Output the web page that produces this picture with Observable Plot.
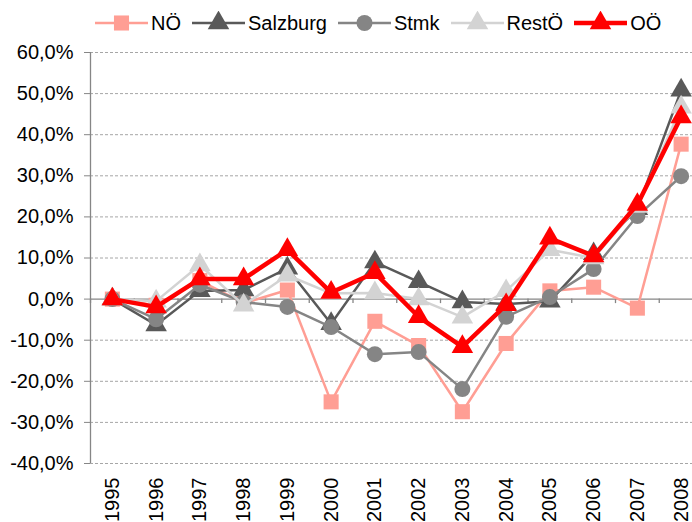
<!DOCTYPE html>
<html><head><meta charset="utf-8">
<script src="https://cdn.jsdelivr.net/npm/d3@7"></script>
<script src="https://cdn.jsdelivr.net/npm/@observablehq/plot@0.6"></script>
<style>
body{margin:0;background:#fff;font-family:"Liberation Sans",Arial,sans-serif;}
#wrap{position:relative;width:692px;height:522px;overflow:hidden;}
#legend{position:absolute;left:95px;top:11px;display:flex;align-items:center;font-size:20px;color:#000;white-space:nowrap;}
.item{display:flex;align-items:center;margin-right:11px;}
.item svg{margin-right:3px;}
</style></head>
<body><div id="wrap"><div id="legend"></div></div>
<script>
const years = [1995,1996,1997,1998,1999,2000,2001,2002,2003,2004,2005,2006,2007,2008];
const seriesNames = ["NÖ","Salzburg","Stmk","RestÖ","OÖ"];
const noe      = [0,-1.5,4.5,-1.0,2.2,-25.0,-5.4,-11.3,-27.4,-10.8,2.0,2.9,-2.2,37.7];
const salzburg = [0,-6.3,2.0,2.2,7.5,-6.0,9.0,4.2,-0.7,-1.2,-0.5,11.0,22.0,50.8];
const stmk     = [0,-4.9,3.5,-0.7,-1.9,-6.8,-13.4,-12.9,-21.9,-4.3,0.5,7.3,20.2,29.9];
const restoe   = [0,-0.5,8.3,-1.5,5.8,1.4,1.5,0.0,-4.4,2.0,12.0,10.0,22.5,46.7];
const ooe      = [0,-1.9,4.9,4.9,12.0,1.6,6.4,-4.3,-11.6,-1.4,14.8,10.5,23.0,44.3];
const yTicks = [-40,-30,-20,-10,0,10,20,30,40,50,60];

const styles = {
  "NÖ":       {color:"#FF9E94", symbol:"square",   r:8.5, sw:2.5},
  "Salzburg": {color:"#595959", symbol:"triangle", r:8,   sw:2.5},
  "Stmk":     {color:"#858585", symbol:"circle",   r:8,   sw:2.5},
  "RestÖ":    {color:"#D3D3D3", symbol:"triangle", r:8,   sw:2.5},
  "OÖ":       {color:"#FF0000", symbol:"triangle", r:8,   sw:4.5}
};
const values = {"NÖ":noe,"Salzburg":salzburg,"Stmk":stmk,"RestÖ":restoe,"OÖ":ooe};

const boundaries = years.map(y => y + 0.5).concat([years[0]-0.5]);

const marks = [
  Plot.ruleY(yTicks.filter(d => d !== 0), {stroke:"#A6A6A6", strokeDasharray:"3,2", strokeWidth:1}),
  Plot.ruleY([0], {stroke:"#868686", strokeWidth:1.3}),
  Plot.ruleX(boundaries, {y1:0, y2:-1.1, stroke:"#868686", strokeWidth:1.3}),
  Plot.ruleX([years[0]-0.5], {y1:-40, y2:60, stroke:"#868686", strokeWidth:1.3}),
  Plot.axisY({ticks:yTicks, tickSize:6, tickPadding:11, stroke:"#868686", fill:"#000", label:null,
    tickFormat: d => d.toFixed(1).replace(".", ",") + "%"}),
  Plot.axisX({ticks:years, tickSize:0, tickPadding:14, tickRotate:-90, fill:"#000", label:null,
    tickFormat: d => String(d)})
];
for (const name of seriesNames) {
  const s = styles[name];
  const data = years.map((y,i) => ({year:y, v:values[name][i]}));
  marks.push(Plot.line(data, {x:"year", y:"v", stroke:s.color, strokeWidth:s.sw, curve:"linear"}));
  marks.push(Plot.dot(data, {x:"year", y:"v", fill:s.color, symbol:s.symbol, r:s.r, stroke:"none"}));
}

const chart = Plot.plot({
  width:692, height:522,
  marginTop:52, marginBottom:59, marginLeft:90, marginRight:0,
  style:{fontFamily:"'Liberation Sans', Arial, sans-serif", fontSize:"20px", background:"#fff", color:"#000"},
  x:{type:"linear", domain:[years[0]-0.5, years[years.length-1]+0.5], range:[90,702.5], axis:null, label:null},
  y:{type:"linear", domain:[-40,60], axis:null, label:null},
  marks
});
document.getElementById("wrap").prepend(chart);

// Legend
const leg = document.getElementById("legend");
const symPath = (sym, r) => d3.symbol(sym === "square" ? d3.symbolSquare : sym === "circle" ? d3.symbolCircle : d3.symbolTriangle, Math.PI*r*r)();
for (const name of seriesNames) {
  const s = styles[name];
  const item = document.createElement("div");
  item.className = "item";
  item.innerHTML = `<svg width="53" height="24"><line x1="0" x2="53" y1="12" y2="12" stroke="${s.color}" stroke-width="${s.sw}"/>
    <path transform="translate(26.5,12)" d="${symPath(s.symbol, s.r)}" fill="${s.color}"/></svg><span>${name}</span>`;
  leg.appendChild(item);
}
</script></body></html>
